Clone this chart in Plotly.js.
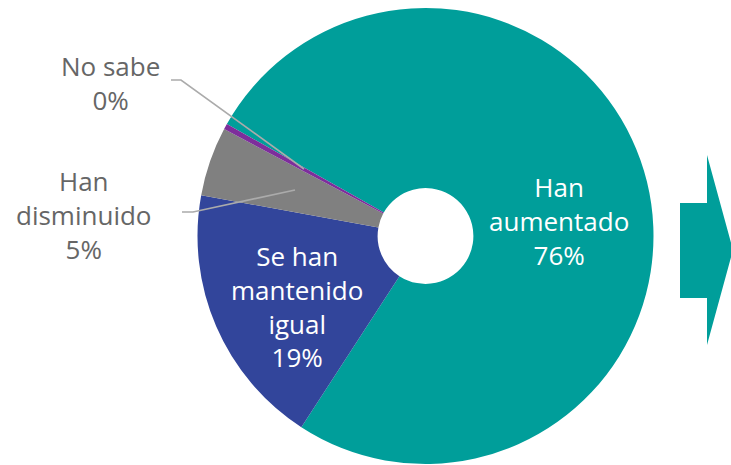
<!DOCTYPE html>
<html>
<head>
<meta charset="utf-8">
<script src="https://cdn.plot.ly/plotly-3.0.1.min.js"></script>
<style>html,body{margin:0;padding:0;background:#fff;}#chart{width:731px;height:465px;}</style>
</head>
<body>
<div id="chart"></div>
<script>
// Data
const categories = ["Han aumentado", "Se han mantenido igual", "Han disminuido", "No sabe"];
const labelLines = [["Han", "aumentado"], ["Se han", "mantenido", "igual"], ["Han", "disminuido"], ["No sabe"]];
const values = [76.0, 18.7, 4.9, 0.4];
const shownPct = ["76%", "19%", "5%", "0%"];
const colors = ["#009E9A", "#32459B", "#808080", "#7D2E9B"];

const W = 731, H = 465;
const px = x => x / W;
const py = y => 1 - y / H;

// Label placement (pixel positions of label centres)
const labelPos = [[559, 221], [297, 306], [84, 215], [110, 83]];
const labelColor = ["#ffffff", "#ffffff", "#666666", "#666666"];

const annotations = categories.map((c, i) => ({
  xref: "paper", yref: "paper",
  x: px(labelPos[i][0]), y: py(labelPos[i][1]),
  xanchor: "center", yanchor: "middle",
  showarrow: false,
  align: "center",
  text: labelLines[i].concat([shownPct[i]]).join("<br>"),
  font: {family: "'Open Sans', Roboto, sans-serif", size: 26, weight: 400, color: labelColor[i]}
}));

const leader = (pts) => ({
  type: "path", xref: "paper", yref: "paper",
  path: "M " + pts.map(p => px(p[0]) + "," + py(p[1])).join(" L "),
  line: {color: "#ABABAB", width: 1.6}
});

const arrowPts = [[680, 203], [707, 203], [707, 155], [733, 250], [707, 345], [707, 298], [680, 298]];
const arrow = {
  type: "path", xref: "paper", yref: "paper",
  path: "M " + arrowPts.map(p => px(p[0]) + "," + py(p[1])).join(" L ") + " Z",
  fillcolor: "#009E9A", line: {width: 0}
};

const data = [{
  type: "pie",
  labels: categories,
  values: values,
  sort: false,
  direction: "clockwise",
  rotation: 299.4,
  hole: 0.21,
  textinfo: "none",
  hoverinfo: "label+percent",
  marker: {colors: colors, line: {width: 0}},
  domain: {x: [px(425.5 - 228), px(425.5 + 228)], y: [py(464), py(8)]},
  showlegend: false
}];

const layout = {
  width: W, height: H,
  margin: {l: 0, r: 0, t: 0, b: 0},
  paper_bgcolor: "#ffffff",
  plot_bgcolor: "#ffffff",
  showlegend: false,
  annotations: annotations,
  shapes: [
    leader([[171, 80], [181, 80], [304, 169]]),
    leader([[182, 212], [193, 212], [295, 190]]),
    arrow
  ]
};

Plotly.newPlot("chart", data, layout, {displayModeBar: false, staticPlot: true});
</script>
</body>
</html>
